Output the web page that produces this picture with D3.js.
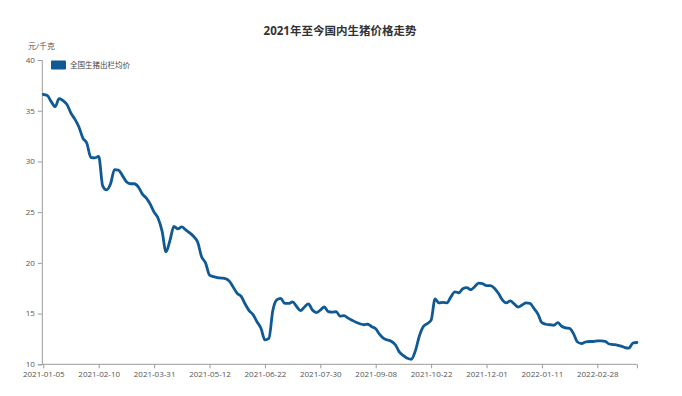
<!DOCTYPE html>
<html>
<head>
<meta charset="utf-8">
<script src="https://cdn.jsdelivr.net/npm/d3@7"></script>
<style>
  html, body { margin: 0; padding: 0; background: #fff; }
  svg { display: block; font-family: "Open Sans", "Noto Sans CJK SC", sans-serif; }
</style>
</head>
<body>
<svg id="chart" width="682" height="396"></svg>
<script>
// ---- data ----
const title = "2021年至今国内生猪价格走势";
const unitLabel = "元/千克";
const seriesName = "全国生猪出栏均价";
const tickLabels = ["2021-01-05","2021-02-10","2021-03-31","2021-05-12","2021-06-22","2021-07-30","2021-09-08","2021-10-22","2021-12-01","2022-01-11","2022-02-28"];
const pointsPerTick = 14;
const yTicks = [10, 15, 20, 25, 30, 35, 40];
const prices = [
  36.6, 36.5, 35.9, 35.4, 36.2, 36.0, 35.6, 34.75, 34.15, 33.4,
  32.3, 31.8, 30.4, 30.35, 30.5, 27.6, 27.2, 27.8, 29.2, 29.15,
  28.6, 28.0, 27.8, 27.8, 27.5, 26.8, 26.4, 25.8, 25.0, 24.4,
  23.15, 21.1, 22.2, 23.6, 23.35, 23.55, 23.25, 22.95, 22.6, 22.05,
  20.6, 20.0, 18.8, 18.65, 18.55, 18.5, 18.45, 18.2, 17.6, 17.0,
  16.7, 15.95, 15.3, 14.9, 14.2, 13.55, 12.4, 12.55, 15.3, 16.35,
  16.5, 16.0, 16.0, 16.15, 15.7, 15.3, 15.65, 15.95, 15.35, 15.1,
  15.35, 15.65, 15.2, 15.15, 15.2, 14.75, 14.8, 14.55, 14.35, 14.15,
  14.0, 13.9, 13.95, 13.7, 13.5, 12.95, 12.55, 12.4, 12.25, 11.9,
  11.2, 10.85, 10.6, 10.5, 11.3, 12.75, 13.7, 14.0, 14.35, 16.45,
  16.05, 16.1, 16.05, 16.65, 17.15, 17.05, 17.45, 17.55, 17.35, 17.65,
  18.0, 17.95, 17.75, 17.75, 17.5, 17.0, 16.35, 16.05, 16.25, 15.95,
  15.65, 15.85, 16.05, 16.0, 15.5, 14.95, 14.1, 13.95, 13.9, 13.85,
  14.1, 13.75, 13.6, 13.55, 13.0, 12.2, 12.05, 12.2, 12.25, 12.25,
  12.3, 12.3, 12.25, 12.0, 11.95, 11.9, 11.8, 11.65, 11.6, 12.1,
  12.15
];

// ---- layout ----
const svg = d3.select("#chart");
const plotLeft = 43.3, plotRight = 636.9, plotTop = 60, plotBottom = 364.3;
const lineColor = "#0f5995";
const axisColor = "#9a9a9a";
const textColor = "#555";

const x = d3.scaleLinear().domain([0, prices.length - 1]).range([plotLeft, plotRight]);
const y = d3.scaleLinear().domain([10, 40]).range([plotBottom, plotTop]);

// title
svg.append("text")
  .attr("x", 340).attr("y", 32)
  .attr("text-anchor", "middle")
  .attr("dominant-baseline", "middle")
  .attr("font-size", 11.5).attr("font-weight", "bold")
  .attr("fill", "#333")
  .text(title);

// unit label
svg.append("text")
  .attr("x", 28).attr("y", 47)
  .attr("dominant-baseline", "middle")
  .attr("font-size", 8).attr("fill", textColor)
  .text(unitLabel);

// y axis
const yAxis = d3.axisLeft(y).tickValues(yTicks).tickSize(4).tickPadding(3).tickFormat(d3.format("d"));
const gy = svg.append("g").attr("transform", `translate(${plotLeft - 1.5},0)`).call(yAxis);
gy.select(".domain").attr("stroke", axisColor).attr("stroke-width", 1);
gy.selectAll(".tick line").attr("stroke", axisColor);
gy.selectAll(".tick text").attr("fill", textColor).attr("font-size", 8)
  .attr("dy", "0.3em")
  .attr("font-family", "'Open Sans', sans-serif");

// x axis
const tickIdx = tickLabels.map((_, i) => i * pointsPerTick).concat([prices.length - 1]);
const labelMap = new Map(tickLabels.map((t, i) => [i * pointsPerTick, t]));
const xAxis = d3.axisBottom(x).tickValues(tickIdx).tickSize(4).tickPadding(3)
  .tickFormat(d => labelMap.get(d) || "");
const gx = svg.append("g").attr("transform", `translate(0,${plotBottom})`).call(xAxis);
gx.select(".domain").attr("stroke", axisColor).attr("stroke-width", 1)
  .attr("d", `M${plotLeft - 1.5},0H${plotRight}`);
gx.selectAll(".tick line").attr("stroke", axisColor);
gx.selectAll(".tick text").attr("fill", textColor).attr("font-size", 8)
  .attr("font-family", "'Open Sans', sans-serif");

// legend
svg.append("rect")
  .attr("x", 51).attr("y", 60.5).attr("width", 15).attr("height", 9)
  .attr("rx", 1).attr("fill", lineColor);
svg.append("text")
  .attr("x", 70).attr("y", 65.5)
  .attr("dominant-baseline", "middle")
  .attr("font-size", 7.5).attr("fill", "#444")
  .text(seriesName);

// line
const line = d3.line()
  .x((d, i) => x(i))
  .y(d => y(d))
  .curve(d3.curveMonotoneX);
svg.append("path")
  .datum(prices)
  .attr("d", line)
  .attr("fill", "none")
  .attr("stroke", lineColor)
  .attr("stroke-width", 2.8)
  .attr("stroke-linejoin", "round")
  .attr("stroke-linecap", "round");
</script>
</body>
</html>
